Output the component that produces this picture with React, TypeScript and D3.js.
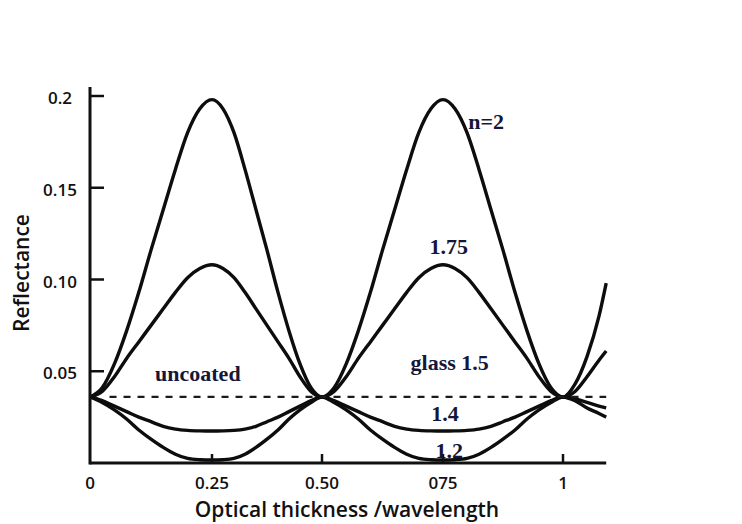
import React from 'react';
import * as d3 from 'd3';

// Optical thickness of the coating, in wavelengths
const thickness = [
  0, 0.025, 0.05, 0.075, 0.1, 0.125, 0.15, 0.175, 0.2, 0.225, 0.25,
  0.275, 0.3, 0.325, 0.35, 0.375, 0.4, 0.425, 0.45, 0.475, 0.5,
  0.525, 0.55, 0.575, 0.6, 0.625, 0.65, 0.675, 0.7, 0.725, 0.75,
  0.775, 0.8, 0.825, 0.85, 0.875, 0.9, 0.925, 0.95, 0.975, 1,
  1.025, 1.05, 1.075, 1.09,
];

// Reflectance of a single layer on glass, per coating index
const reflN200 = [
  0.036, 0.041, 0.054, 0.072, 0.093, 0.116, 0.138, 0.16, 0.18, 0.193, 0.198,
  0.193, 0.18, 0.16, 0.138, 0.116, 0.093, 0.072, 0.054, 0.041, 0.036,
  0.041, 0.054, 0.072, 0.093, 0.116, 0.138, 0.16, 0.18, 0.193, 0.198,
  0.193, 0.18, 0.16, 0.138, 0.116, 0.093, 0.072, 0.054, 0.041, 0.036,
  0.043, 0.058, 0.08, 0.098,
];
const reflN175 = [
  0.036, 0.039, 0.047, 0.057, 0.066, 0.075, 0.084, 0.093, 0.101, 0.106, 0.108,
  0.106, 0.101, 0.093, 0.084, 0.075, 0.066, 0.057, 0.047, 0.039, 0.036,
  0.039, 0.047, 0.057, 0.066, 0.075, 0.084, 0.093, 0.101, 0.106, 0.108,
  0.106, 0.101, 0.093, 0.084, 0.075, 0.066, 0.057, 0.047, 0.039, 0.036,
  0.039, 0.047, 0.056, 0.061,
];
const reflN140 = [
  0.036, 0.034, 0.031, 0.028, 0.025, 0.0225, 0.02, 0.0185, 0.0178, 0.0175, 0.0174,
  0.0175, 0.0178, 0.0185, 0.02, 0.0225, 0.025, 0.028, 0.031, 0.034, 0.036,
  0.034, 0.031, 0.028, 0.025, 0.0225, 0.02, 0.0185, 0.0178, 0.0175, 0.0174,
  0.0175, 0.0178, 0.0185, 0.02, 0.0225, 0.025, 0.028, 0.031, 0.034, 0.036,
  0.035, 0.033, 0.031, 0.03,
];
const reflN120 = [
  0.036, 0.033, 0.029, 0.024, 0.018, 0.013, 0.0085, 0.0048, 0.0025, 0.0018, 0.0016,
  0.0018, 0.0025, 0.0048, 0.0085, 0.013, 0.018, 0.024, 0.029, 0.033, 0.036,
  0.033, 0.029, 0.024, 0.018, 0.013, 0.0085, 0.0048, 0.0025, 0.0018, 0.0016,
  0.0018, 0.0025, 0.0048, 0.0085, 0.013, 0.018, 0.024, 0.029, 0.033, 0.036,
  0.034, 0.03, 0.027, 0.025,
];
// Bare glass (n = 1.5)
const uncoatedThickness = [0.04, 1.09];
const uncoatedRefl = [0.036, 0.036];

const yTicks = [0.05, 0.1, 0.15, 0.2];
const yTickLabels = ['0.05', '0.10', '0.15', '0.2'];
const xTicks = [0, 0.25, 0.5, 0.75, 1];
const xTickLabels = ['0', '0.25', '0.50', '075', '1'];

const W = 742;
const H = 524;

export default function App() {
  // The thickness axis is drawn with uneven spacing between its labelled ticks
  const x = d3
    .scaleLinear()
    .domain([0, 0.25, 0.5, 0.75, 1])
    .range([90, 212, 322, 443, 563]);
  const y = d3.scaleLinear().domain([0, 0.2]).range([463, 96]);

  const line = d3
    .line<[number, number]>()
    .x((d) => x(d[0]))
    .y((d) => y(d[1]))
    .curve(d3.curveMonotoneX);

  const series = [reflN200, reflN175, reflN140, reflN120];
  const paths = series.map((vals) =>
    line(thickness.map((t, i) => [t, vals[i]] as [number, number]))
  );
  const dashed = d3
    .line<[number, number]>()
    .x((d) => x(d[0]))
    .y((d) => y(d[1]))(uncoatedThickness.map((t, i) => [t, uncoatedRefl[i]] as [number, number]));

  const axisFont = "'Open Sans', 'DejaVu Sans', sans-serif";
  const noteFont = "'Liberation Serif', 'DejaVu Serif', serif";
  const noteColor = '#14163a';
  const x0 = x(0);
  const y0 = y(0);

  const notes = [
    { text: 'n=2', t: 0.84, r: 0.186 },
    { text: '1.75', t: 0.762, r: 0.118 },
    { text: 'uncoated', t: 0.221, r: 0.049 },
    { text: 'glass 1.5', t: 0.764, r: 0.055 },
    { text: '1.4', t: 0.754, r: 0.027 },
    { text: '1.2', t: 0.763, r: 0.007 },
  ];

  return (
    <svg
      width={W}
      height={H}
      style={{ position: 'absolute', left: 0, top: 0, background: '#fff' }}
    >
      <rect width={W} height={H} fill="#fff" />

      {/* reflectance curves */}
      {paths.map((p, i) => (
        <path key={i} d={p ?? ''} fill="none" stroke="#0d0d0d" strokeWidth={3.4} strokeLinejoin="round" />
      ))}
      <path d={dashed ?? ''} fill="none" stroke="#1a1a1a" strokeWidth={2.2} strokeDasharray="7 7" />

      {/* axes */}
      <line x1={x0} x2={x0} y1={87} y2={y0 + 1.5} stroke="#111" strokeWidth={3} />
      <line x1={x0} x2={x(1.09)} y1={y0} y2={y0} stroke="#111" strokeWidth={3} />

      {yTicks.map((v, i) => (
        <g key={v}>
          <line x1={x0} x2={x0 + 14} y1={y(v)} y2={y(v)} stroke="#111" strokeWidth={2.5} />
          <text
            x={60}
            y={y(v) + 2}
            dy="0.36em"
            textAnchor="middle"
            fontFamily={axisFont}
            fontSize={17}
            fontWeight={600}
            fill="#111"
          >
            {yTickLabels[i]}
          </text>
        </g>
      ))}

      {xTicks.map((v, i) => (
        <g key={v}>
          {v > 0 && (
            <line x1={x(v)} x2={x(v)} y1={y0} y2={y0 - 9} stroke="#111" strokeWidth={2.5} />
          )}
          <text
            x={x(v)}
            y={y0 + 26}
            textAnchor="middle"
            fontFamily={axisFont}
            fontSize={17}
            fontWeight={600}
            fill="#111"
          >
            {xTickLabels[i]}
          </text>
        </g>
      ))}

      <text
        x={347}
        y={517}
        textAnchor="middle"
        fontFamily={axisFont}
        fontSize={21}
        fontWeight={600}
        fill="#111"
      >
        Optical thickness /wavelength
      </text>
      <text
        transform={`translate(29, 273) rotate(-90)`}
        textAnchor="middle"
        fontFamily={axisFont}
        fontSize={21}
        fontWeight={600}
        fill="#111"
      >
        Reflectance
      </text>

      {notes.map((n) => (
        <text
          key={n.text}
          x={x(n.t)}
          y={y(n.r)}
          dy="0.35em"
          textAnchor="middle"
          fontFamily={noteFont}
          fontSize={22}
          fontWeight={700}
          fill={noteColor}
        >
          {n.text}
        </text>
      ))}
    </svg>
  );
}
